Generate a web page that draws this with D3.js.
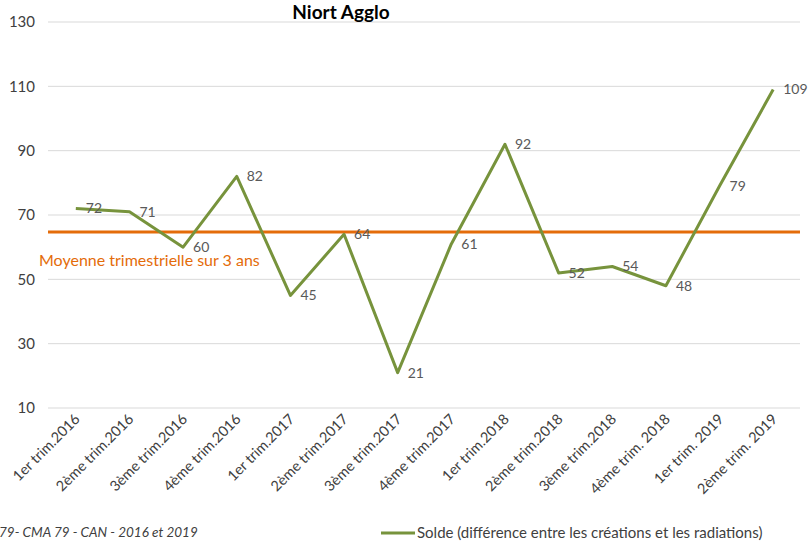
<!DOCTYPE html>
<html>
<head>
<meta charset="utf-8">
<script src="https://cdn.jsdelivr.net/npm/d3@7"></script>
<style>
  body { margin: 0; background: #fff; }
  svg text { font-family: Lato, "Open Sans", sans-serif; }
</style>
</head>
<body>
<svg id="chart" width="808" height="542"></svg>
<script>
// categories and values
const quarters = ["1er trim.2016", "2ème trim.2016", "3ème trim.2016", "4ème trim.2016",
  "1er trim.2017", "2ème trim.2017", "3ème trim.2017", "4ème trim.2017",
  "1er trim.2018", "2ème trim.2018", "3ème trim.2018", "4ème trim. 2018",
  "1er trim. 2019", "2ème trim. 2019"];
const solde = [72, 71, 60, 82, 45, 64, 21, 61, 92, 52, 54, 48, 79, 109];
const moyenne = 64.7;
const yTicks = [10, 30, 50, 70, 90, 110, 130];

const svg = d3.select('#chart');

const x = d3.scalePoint().domain(quarters).range([49, 800]).padding(0.5);
const y = d3.scaleLinear().domain([10, 130]).range([408, 22]);

// gridlines
svg.append('g').selectAll('line')
  .data(yTicks).enter()
  .append('line')
  .attr('x1', 48).attr('x2', 800)
  .attr('y1', d => y(d)).attr('y2', d => y(d))
  .attr('stroke', '#d9d9d9').attr('stroke-width', 1);

// y axis labels
svg.append('g').selectAll('text')
  .data(yTicks).enter()
  .append('text')
  .attr('x', 35).attr('y', d => y(d))
  .attr('dy', '0.35em')
  .attr('text-anchor', 'end')
  .attr('font-size', 15)
  .attr('fill', '#404040')
  .text(d => d);

// x axis labels, rotated
svg.append('g').selectAll('text')
  .data(quarters).enter()
  .append('text')
  .attr('transform', d => 'translate(' + (x(d) + 5) + ',420) rotate(-45)')
  .attr('text-anchor', 'end')
  .attr('font-size', 14.5)
  .attr('fill', '#404040')
  .text(d => d);

// mean line
svg.append('line')
  .attr('x1', 48).attr('x2', 800)
  .attr('y1', y(moyenne)).attr('y2', y(moyenne))
  .attr('stroke', '#E46C0A').attr('stroke-width', 3);

svg.append('text')
  .attr('x', 39).attr('y', 266)
  .attr('font-size', 16)
  .attr('fill', '#E46C0A')
  .text('Moyenne trimestrielle sur 3 ans');

// the series line
const line = d3.line().x((d, i) => x(quarters[i])).y(d => y(d));
svg.append('path')
  .datum(solde)
  .attr('fill', 'none')
  .attr('stroke', '#77933C')
  .attr('stroke-width', 3)
  .attr('stroke-linejoin', 'round')
  .attr('d', line);

// data labels
svg.append('g').selectAll('text')
  .data(solde).enter()
  .append('text')
  .attr('x', (d, i) => x(quarters[i]) + 10)
  .attr('y', d => y(d))
  .attr('dy', '0.35em')
  .attr('font-size', 14)
  .attr('fill', '#595959')
  .text(d => d);

// title
svg.append('text')
  .attr('x', 341).attr('y', 19)
  .attr('text-anchor', 'middle')
  .attr('font-size', 19)
  .attr('font-weight', 'bold')
  .attr('fill', '#000')
  .text('Niort Agglo');

// source note (cut at the left edge)
svg.append('text')
  .attr('x', -1).attr('y', 537)
  .attr('font-size', 13.5)
  .attr('font-style', 'italic')
  .attr('fill', '#404040')
  .text('79- CMA 79 - CAN - 2016 et 2019');

// legend
svg.append('line')
  .attr('x1', 381).attr('x2', 415)
  .attr('y1', 533).attr('y2', 533)
  .attr('stroke', '#77933C').attr('stroke-width', 3);
svg.append('text')
  .attr('x', 417).attr('y', 538)
  .attr('font-size', 15)
  .attr('fill', '#404040')
  .text('Solde (différence entre les créations et les radiations)');
</script>
</body>
</html>
